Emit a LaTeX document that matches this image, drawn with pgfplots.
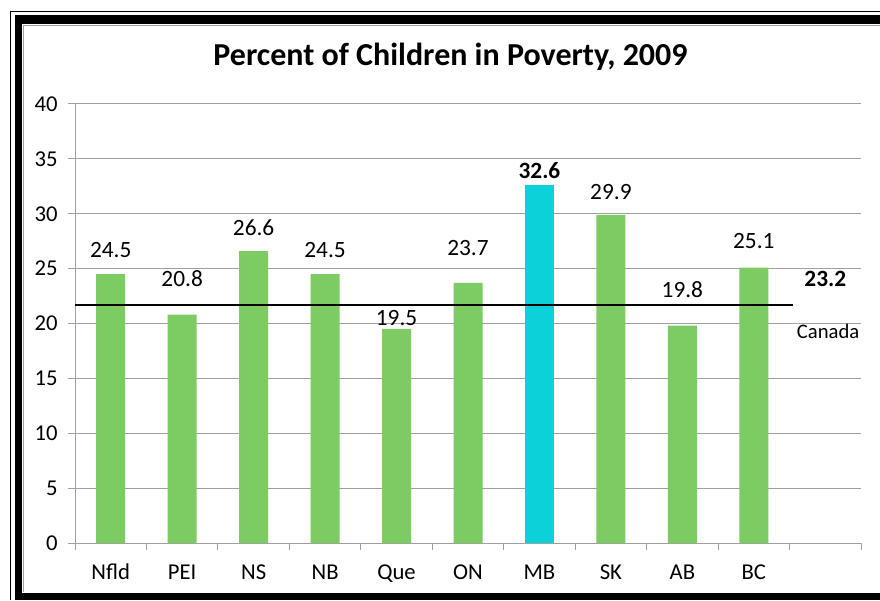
\documentclass[border=0pt]{standalone}
\usepackage{fontspec}
\setmainfont{Carlito}
\usepackage{pgfplots}
\pgfplotsset{compat=1.18}
\definecolor{bargreen}{RGB}{124,203,99}
\definecolor{barcyan}{RGB}{12,209,217}
\definecolor{gridgray}{RGB}{160,160,160}
\begin{document}
\begin{tikzpicture}
\path[use as bounding box] (0,0) rectangle (660pt,450pt);
% frame
\fill[black] (11.25pt,0) rectangle (16.5pt,438.75pt);
\fill[black] (11.25pt,432pt) rectangle (660pt,438.75pt);
\fill[black] (11.25pt,0) rectangle (660pt,5.25pt);
\draw[black, line width=1.1pt] (7.9pt,0) -- (7.9pt,441.4pt) -- (660pt,441.4pt);
\draw[gridgray, line width=0.6pt] (17.2pt,5.9pt) -- (17.2pt,431.3pt) -- (660pt,431.3pt);
\node[font=\bfseries\fontsize{24}{28}\selectfont] at (337.9pt,407.6pt) {Percent of Children in Poverty, 2009};
\begin{axis}[
  at={(56.25pt,42.75pt)}, anchor=south west, scale only axis,
  width=589.5pt, height=329.25pt,
  xmin=-0.5, xmax=10.5, ymin=0, ymax=40,
  ytick={0,5,10,15,20,25,30,35,40},
  xtick={-0.5,0.5,1.5,2.5,3.5,4.5,5.5,6.5,7.5,8.5,9.5,10.5},
  xticklabels={},
  extra x ticks={0,1,2,3,4,5,6,7,8,9},
  extra x tick labels={Nfld,PEI,NS,NB,Que,ON,MB,SK,AB,BC},
  extra x tick style={major tick length=0pt, grid=none},
  axis x line*=bottom, axis y line*=left,
  axis line style={gridgray, line width=0.75pt, -},
  ymajorgrids, xmajorgrids=false,
  grid style={gridgray, line width=0.75pt},
  tick style={gridgray, line width=0.75pt},
  tick align=outside, major tick length=5.5pt,
  tick label style={font=\fontsize{17}{19}\selectfont, black},
  xticklabel style={anchor=base, yshift=-27.5pt},
  yticklabel style={xshift=-4pt},
  /pgf/number format/assume math mode=true,
  clip=false,
]
\addplot[ybar, bar width=21.75pt, bar shift=0pt, fill=bargreen, draw=none]
  coordinates {(0,24.5)(1,20.8)(2,26.6)(3,24.5)(4,19.5)(5,23.7)(7,29.9)(8,19.8)(9,25.1)};
\addplot[ybar, bar width=21.75pt, bar shift=0pt, fill=barcyan, draw=none]
  coordinates {(6,32.6)};
\addplot[black, line width=1.5pt, mark=none] coordinates {(-0.5,21.65)(9.55,21.65)};
% data labels
\addplot[draw=none, mark=none, nodes near coords, point meta=explicit symbolic,
  nodes near coords style={anchor=center, inner sep=0pt, font=\fontsize{17.5}{19}\selectfont, black}]
  coordinates {(0,26.7)[24.5] (1,24.05)[20.8] (2,28.7)[26.6] (3,26.7)[24.5] (4,20.5)[19.5]
               (5,26.9)[23.7] (6,33.9)[\textbf{32.6}] (7,32.0)[29.9] (8,23.05)[19.8] (9,27.5)[25.1]
               (10,24.05)[\textbf{23.2}]};
\addplot[draw=none, mark=none, nodes near coords, point meta=explicit symbolic,
  nodes near coords style={anchor=center, inner sep=0pt, font=\fontsize{15.5}{17}\selectfont, black}]
  coordinates {(10.04,19.3)[Canada]};
\end{axis}
\end{tikzpicture}
\end{document}
